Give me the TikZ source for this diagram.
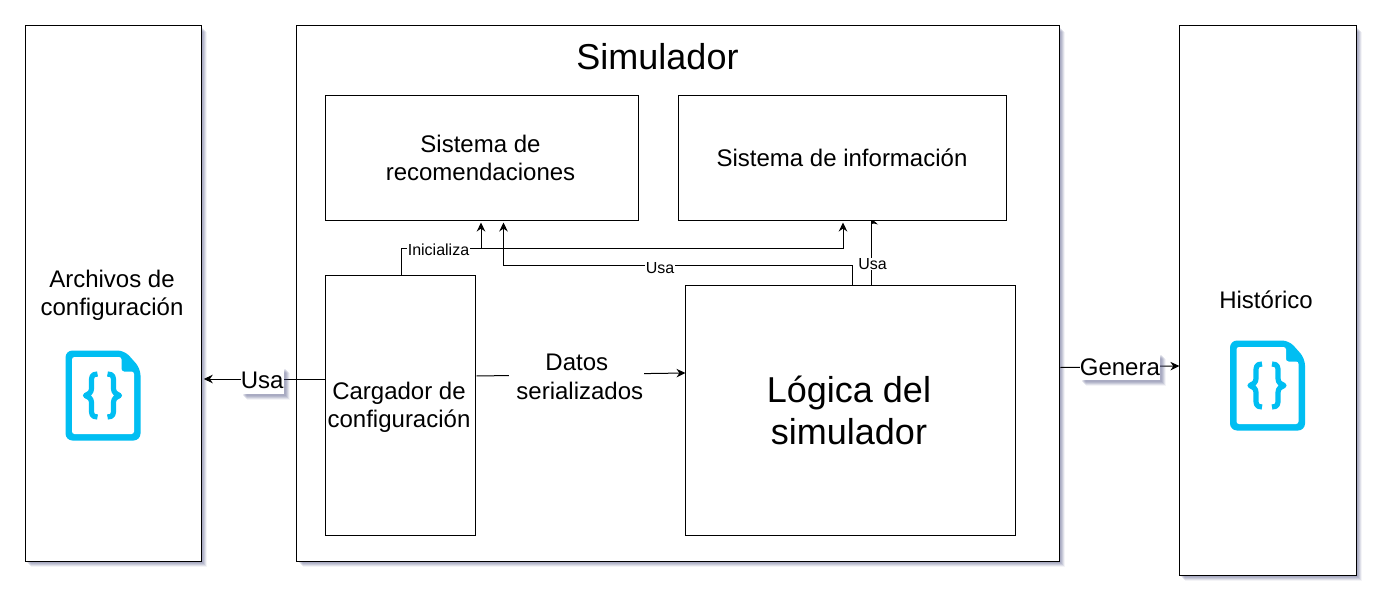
\documentclass[tikz,border=0pt]{standalone}
\usepackage{fontspec}
\setmainfont{Liberation Sans}
\usetikzlibrary{arrows.meta,calc}
\definecolor{shadowc}{RGB}{70,75,125}
\definecolor{iconc}{RGB}{0,190,242}
\tikzset{
  softshadow/.style={
    preaction={draw=none,fill=shadowc,fill opacity=.12,transform canvas={shift={(2pt,-2pt)}}},
    preaction={draw=none,fill=shadowc,fill opacity=.14,transform canvas={shift={(3pt,-3pt)}}},
    preaction={draw=none,fill=shadowc,fill opacity=.14,transform canvas={shift={(4pt,-4pt)}}},
    preaction={draw=none,fill=shadowc,fill opacity=.12,transform canvas={shift={(5pt,-5pt)}}},
    preaction={draw=none,fill=shadowc,fill opacity=.06,transform canvas={shift={(6pt,-6pt)}}}},
  box/.style={draw=black,fill=white,line width=0.85pt,rectangle,inner sep=2pt,outer sep=0pt,align=center,
    font=\fontsize{24}{28}\selectfont},
  plain/.style={inner sep=0pt,outer sep=0pt,align=center,font=\fontsize{24}{28}\selectfont},
  conn/.style={draw=black,line width=1pt,-{Stealth[length=9pt,width=8.5pt]}},
  biglabel/.style={fill=white,inner sep=0pt,outer sep=0pt,font=\fontsize{24}{28}\selectfont,softshadow},
  midlabel/.style={fill=white,inner sep=1pt,outer sep=0pt,align=center,font=\fontsize{24}{29}\selectfont},
  smalllabel/.style={fill=white,inner sep=0.5pt,outer sep=0pt,font=\fontsize{16}{18}\selectfont},
  jsonicon/.pic={
    \fill[iconc,rounded corners=7pt] (0,0) -- (59,0) -- (75,18) -- (75,90) -- (0,90) -- cycle;
    \fill[white,rounded corners=2.5pt] (6.5,6.5) -- (56,6.5) -- (56,21) -- (68.5,21) -- (68.5,83.5) -- (6.5,83.5) -- cycle;
    \draw[iconc,line width=5.2pt,line join=round]
      (32,23.5) .. controls (26,23.5) and (26,27) .. (26,31) -- (26,38)
      .. controls (26,42) and (23,44) .. (20,45) .. controls (23,46) and (26,48) .. (26,52) -- (26,59)
      .. controls (26,63) and (26,66.5) .. (32,66.5);
    \draw[iconc,line width=5.2pt,line join=round]
      (42,23.5) .. controls (48,23.5) and (48,27) .. (48,31) -- (48,38)
      .. controls (48,42) and (51,44) .. (54,45) .. controls (51,46) and (48,48) .. (48,52) -- (48,59)
      .. controls (48,63) and (48,66.5) .. (42,66.5);
  }
}
\begin{document}
\begin{tikzpicture}[x=1pt,y=-1pt]
\useasboundingbox (0,0) rectangle (1387,607);
% outer boxes
\node[box,softshadow,minimum width=176pt,minimum height=535.6pt] (files) at (113.3,293.6) {};
\node[box,softshadow,minimum width=762.6pt,minimum height=535.6pt] (sim) at (678.1,293.6) {};
\node[box,softshadow,minimum width=176.6pt,minimum height=549.6pt] (hist) at (1267.7,300.6) {};
% texts
\node[plain] (filestext) at (112,295) {Archivos de\\configuración};
\node[plain] (histtext) at (1266,300) {Histórico};
\node[plain,font=\fontsize{36}{42}\selectfont] (simtext) at (657.5,57) {Simulador};
\pic at (65.5,350.5) {jsonicon};
\pic at (1230,340.5) {jsonicon};
% inner boxes
\node[box,minimum width=313pt,minimum height=124.4pt] (rec) at (481.5,157.8) {\hspace*{-2pt}Sistema de\\\hspace*{-2pt}recomendaciones};
\node[box,minimum width=328pt,minimum height=124.4pt] (info) at (842.5,157.8) {\hspace*{-1pt}Sistema de información};
\node[box,minimum width=150pt,minimum height=260pt] (car) at (400.5,405) {};
\node[plain] (cartext) at (399,407) {Cargador de\\configuración};
\node[box,minimum width=330pt,minimum height=250pt] (log) at (850.5,410.5) {};
\node[plain,font=\fontsize{36}{42}\selectfont] (logtext) at (849,410.5) {Lógica del\\simulador};
% x positions on box edges
\coordinate (xa) at (401.5,0);
\coordinate (xb) at (481,0);
\coordinate (xc) at (843,0);
\coordinate (xd) at (503.5,0);
\coordinate (xe) at (852,0);
\coordinate (xf) at (871,0);
\coordinate (ya) at (0,379);
\coordinate (yb) at (0,248);
\coordinate (yc) at (0,265.5);
\coordinate (tipfix) at (0,2.5);
% connectors
\draw[conn] (car.west |- ya) -- node[biglabel,pos=.52,minimum height=27pt,yshift=-1.5pt] (usaA) {Usa} ($(files.east |- ya)+(2.5,0)$);
\draw[conn] ($(car.east |- 0,376)+(1,0)$) -- node[midlabel,pos=.48,yshift=-2pt] (datos) {Datos\\\hspace*{6pt}serializados} (log.west |- 0,373);
\draw[conn] ($(sim.east |- 0,367.5)+(1,0)$) -- node[biglabel,pos=.5,minimum height=27pt] (gen) {Genera} (hist.west |- 0,366);
\draw[conn] (car.north -| xa) |- (xc |- yb) -- ($(info.south -| xc)+(tipfix)$);
\draw[conn] (xb |- yb) -- ($(rec.south -| xb)+(tipfix)$);
\draw[conn] (log.north -| xe) |- (xd |- yc) -- ($(rec.south -| xd)+(tipfix)$);
\draw[draw=black,line width=1pt] (log.north -| xf) -- (info.south -| xf);
\fill[black] (info.south -| xf) -- ++(2,0) -- ++(5,4.5) -- ++(-4,-1) -- ++(-3,0.5) -- cycle;
\node[smalllabel] (ini) at (438.5,249.5) {Inicializa};
\node[smalllabel] (usaB) at (660,268.5) {Usa};
\node[smalllabel] (usaC) at (872.5,264) {Usa};
\end{tikzpicture}
\end{document}
